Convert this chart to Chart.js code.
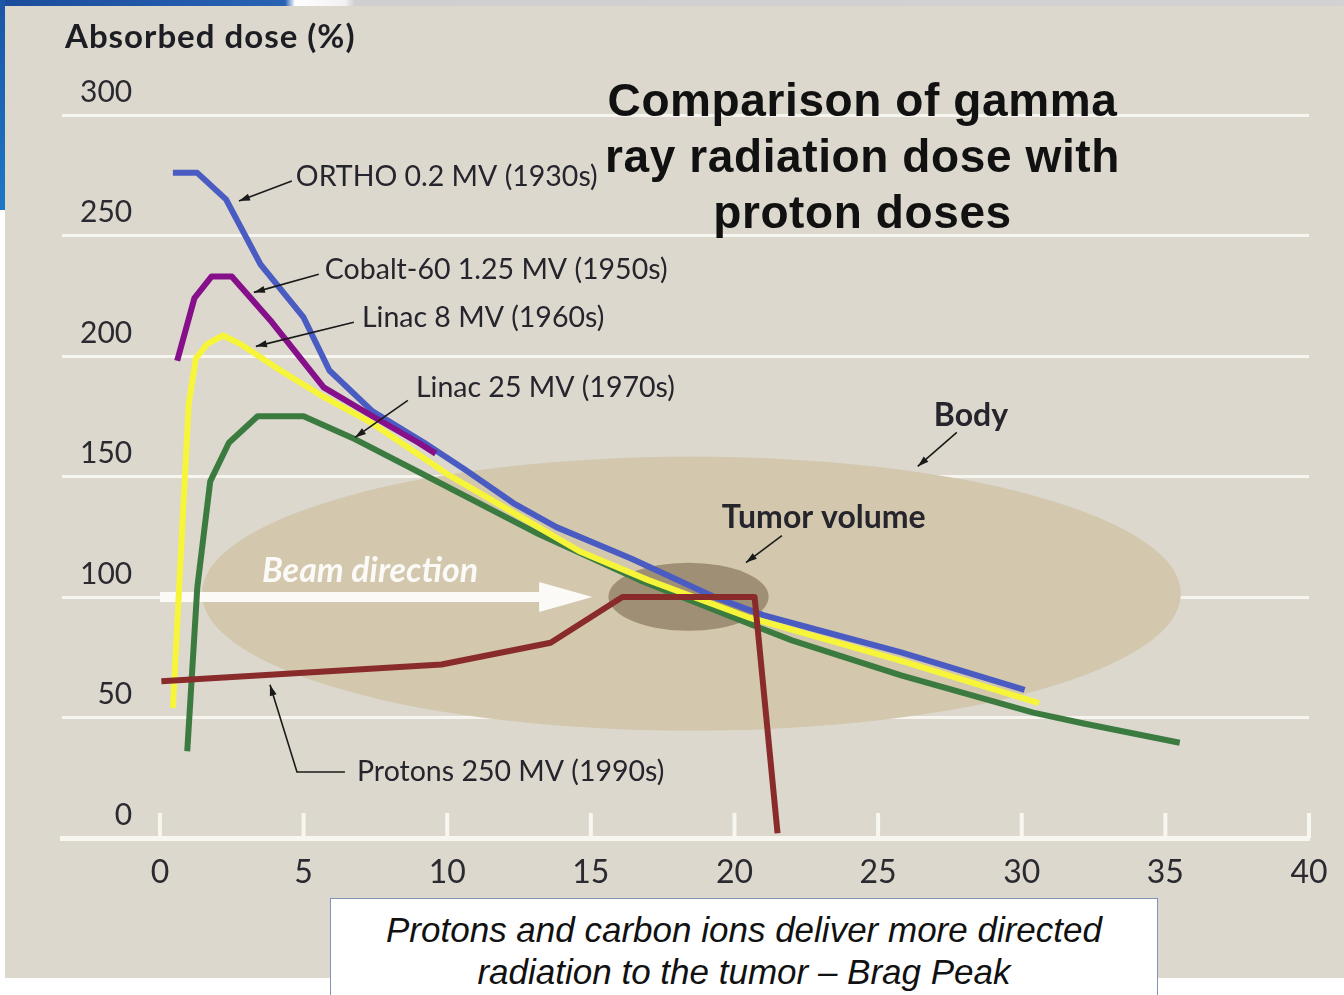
<!DOCTYPE html>
<html>
<head>
<meta charset="utf-8">
<title>Absorbed dose vs depth</title>
<script src="https://cdn.jsdelivr.net/npm/chart.js@4.4.1/dist/chart.umd.min.js"></script>
<style>
  body { margin: 0; width: 1344px; height: 995px; position: relative; overflow: hidden; background: #fff; }
  #topBand { position: absolute; left: 0; top: 0; width: 1344px; height: 6px;
    background: linear-gradient(90deg, #1b4c9c 0, #2862b3 285px, #ffffff 295px, #f2f2f2 345px, #cfcfcf 355px, #d2d2d2 100%); }
  #sideBand { position: absolute; left: 0; top: 0; width: 5px; height: 210px; background: linear-gradient(#1b55a6, #1c78c6); }
  #panel { position: absolute; left: 5px; top: 6px; width: 1339px; height: 972px; background: #dcd8ce; }
  #chartWrap { position: absolute; left: 0; top: 0; width: 1344px; height: 995px; }
  #yTitle { position: absolute; left: 65px; top: 15px; font: 700 33px Lato, sans-serif; letter-spacing: 1px; color: #1d1d24; }
  #title { position: absolute; left: 560px; top: 72px; width: 605px; text-align: center;
    font: 700 46px "Liberation Sans", Arial, sans-serif; line-height: 56px; letter-spacing: 0.6px; color: #111; }
  #caption { position: absolute; left: 330px; top: 898px; width: 828px; height: 110px; padding-top: 10px; box-sizing: border-box;
    background: #fff; border: 1px solid #8393b5; text-align: center;
    font: italic 35px "Liberation Sans", Arial, sans-serif; line-height: 42px; color: #111; }
</style>
</head>
<body>
<div id="topBand"></div>
<div id="sideBand"></div>
<div id="panel"></div>
<div id="chartWrap"><canvas id="doseChart" width="1344" height="995"></canvas></div>
<div id="yTitle">Absorbed dose (%)</div>
<div id="title">Comparison of gamma<br>ray radiation dose with<br>proton doses</div>
<div id="caption">Protons and carbon ions deliver more directed<br>radiation to the tumor – Brag Peak</div>

<script>
// depth axis (cm) and dose axis (%)
const depthTicks = [0, 5, 10, 15, 20, 25, 30, 35, 40];
const doseTicks = [0, 50, 100, 150, 200, 250, 300];

// depth-dose curves
const orthoDepth = [0.45, 1.3, 2.3, 3.5, 5.0, 5.9, 7.4, 9.2, 10.6, 12.3, 13.8, 16.4, 19.3, 21.0, 23.0, 25.8, 30.1];
const orthoDose  = [276, 276, 265, 238, 216, 194, 177, 164, 153, 139, 129, 116, 100, 92.5, 86, 77, 61.5];

const cobaltDepth = [0.6, 1.2, 1.8, 2.5, 3.9, 5.7, 7.4, 9.0, 9.6];
const cobaltDose  = [198, 224, 233, 233, 214, 187, 175, 164, 159.5];

const linac8Depth = [0.45, 1.0, 1.25, 1.65, 2.2, 2.8, 4.2, 5.7, 7.4, 10.0, 12.3, 14.6, 17.0, 20.5, 23.0, 25.8, 30.6];
const linac8Dose  = [54, 180, 199, 205, 208.5, 205, 194, 183, 172, 151, 135, 119, 107, 91.5, 83, 73.5, 56];

const linac25Depth = [0.95, 1.3, 1.75, 2.4, 3.4, 5.0, 6.7, 9.8, 13.2, 16.7, 20.6, 22.0, 25.8, 30.4, 32.2, 35.5];
const linac25Dose  = [36, 104, 148, 164, 175, 175, 166, 147, 126, 107, 88.5, 82, 67.5, 52, 47.4, 39.5];

const protonDepth = [0.05, 9.8, 13.6, 16.1, 20.7, 21.5];
const protonDose  = [65, 72, 81, 100, 100, 2];

// body outline and tumour, in axis units (centre + radii)
const bodyShape = { cx: 18.5, cy: 101.4, rx: 17.04, ry: 56.9 };
const tumorShape = { cx: 18.4, cy: 100.1, rx: 2.79, ry: 14.1 };

// callouts: text anchor (left, middle) and leader path ending in an arrow head
const callouts = [
  { text: "ORTHO 0.2 MV (1930s)", at: [4.73, 274.2], path: [[4.59, 272.6], [2.75, 264.3]] },
  { text: "Cobalt-60 1.25 MV (1950s)", at: [5.74, 235.6], path: [[5.53, 233.9], [3.27, 226.4]] },
  { text: "Linac 8 MV (1960s)", at: [7.03, 215.7], path: [[6.75, 214], [3.34, 204]] },
  { text: "Linac 25 MV (1970s)", at: [8.91, 186.6], path: [[8.63, 181.6], [6.79, 166.2]] },
  { text: "Body", at: [26.94, 175.3], path: [[27.74, 168.3], [26.38, 154.2]], bold: true },
  { text: "Tumor volume", at: [19.56, 133], path: [[21.65, 125.5], [20.4, 114.3]], bold: true },
  { text: "Protons 250 MV (1990s)", at: [6.86, 27.4], path: [[6.44, 27.4], [4.77, 27.4], [3.83, 63.6]] }
];

const toPoints = (xs, ys) => xs.map((x, i) => ({ x, y: ys[i] }));

function ellipse(ctx, xs, ys, s, color) {
  const cx = xs.getPixelForValue(s.cx), cy = ys.getPixelForValue(s.cy);
  const rx = Math.abs(xs.getPixelForValue(s.cx + s.rx) - cx);
  const ry = Math.abs(ys.getPixelForValue(s.cy + s.ry) - cy);
  ctx.beginPath();
  ctx.ellipse(cx, cy, rx, ry, 0, 0, Math.PI * 2);
  ctx.fillStyle = color;
  ctx.fill();
}

function arrowHead(ctx, x1, y1, x2, y2, len, half) {
  const a = Math.atan2(y2 - y1, x2 - x1);
  ctx.beginPath();
  ctx.moveTo(x2, y2);
  ctx.lineTo(x2 - len * Math.cos(a) + half * Math.sin(a), y2 - len * Math.sin(a) - half * Math.cos(a));
  ctx.lineTo(x2 - len * Math.cos(a) - half * Math.sin(a), y2 - len * Math.sin(a) + half * Math.cos(a));
  ctx.closePath();
  ctx.fill();
}

const sceneUnder = {
  id: "sceneUnder",
  beforeDatasetsDraw(chart) {
    const { ctx, chartArea, scales: { x, y } } = chart;
    ctx.save();
    ellipse(ctx, x, y, bodyShape, "#d3c8ae");
    ellipse(ctx, x, y, tumorShape, "#9f8f74");

    // upward tick marks on the depth axis
    ctx.strokeStyle = "#f8f6f1";
    ctx.lineWidth = 4;
    depthTicks.forEach(v => {
      const px = x.getPixelForValue(v);
      ctx.beginPath();
      ctx.moveTo(px, chartArea.bottom);
      ctx.lineTo(px, chartArea.bottom - 25);
      ctx.stroke();
    });

    // beam direction arrow
    const by = y.getPixelForValue(100);
    ctx.strokeStyle = "#fbfaf7";
    ctx.fillStyle = "#fbfaf7";
    ctx.lineWidth = 10;
    ctx.beginPath();
    ctx.moveTo(x.getPixelForValue(0), by);
    ctx.lineTo(x.getPixelForValue(13.4), by);
    ctx.stroke();
    const hx = x.getPixelForValue(13.2), tx = x.getPixelForValue(15.05);
    ctx.beginPath();
    ctx.moveTo(hx, by - 15);
    ctx.lineTo(tx, by);
    ctx.lineTo(hx, by + 15);
    ctx.closePath();
    ctx.fill();

    ctx.font = "italic 700 34px Lato, sans-serif";
    ctx.textBaseline = "middle";
    ctx.fillText("Beam direction", x.getPixelForValue(3.55), y.getPixelForValue(110.9));
    ctx.restore();
  }
};

const sceneOver = {
  id: "sceneOver",
  afterDatasetsDraw(chart) {
    const { ctx, scales: { x, y } } = chart;
    ctx.save();
    ctx.textBaseline = "middle";
    callouts.forEach(c => {
      ctx.font = c.bold ? "700 32px Lato, sans-serif" : "28.5px Lato, sans-serif";
      ctx.fillStyle = "#26242c";
      ctx.fillText(c.text, x.getPixelForValue(c.at[0]), y.getPixelForValue(c.at[1]));

      const pts = c.path.map(p => [x.getPixelForValue(p[0]), y.getPixelForValue(p[1])]);
      ctx.strokeStyle = "#1a1a1a";
      ctx.fillStyle = "#1a1a1a";
      ctx.lineWidth = 1.6;
      ctx.beginPath();
      pts.forEach((p, i) => i ? ctx.lineTo(p[0], p[1]) : ctx.moveTo(p[0], p[1]));
      ctx.stroke();
      const a = pts[pts.length - 2], b = pts[pts.length - 1];
      arrowHead(ctx, a[0], a[1], b[0], b[1], 11, 3.5);
    });
    ctx.restore();
  }
};

const line = (label, xs, ys, color) => ({
  label,
  data: toPoints(xs, ys),
  borderColor: color,
  borderWidth: 6,
  borderJoinStyle: "round",
  pointRadius: 0,
  tension: 0,
  fill: false
});

const labelFont = { family: "Lato, sans-serif", size: 30 };

new Chart(document.getElementById("doseChart"), {
  type: "line",
  data: {
    datasets: [
      line("Protons 250 MV", protonDepth, protonDose, "#8a2b2b"),
      line("Linac 8 MV", linac8Depth, linac8Dose, "#f6f53a"),
      line("Cobalt-60 1.25 MV", cobaltDepth, cobaltDose, "#860f8a"),
      line("ORTHO 0.2 MV", orthoDepth, orthoDose, "#4a5cc2"),
      line("Linac 25 MV", linac25Depth, linac25Dose, "#3b7b40")
    ]
  },
  options: {
    responsive: false,
    animation: false,
    devicePixelRatio: 1,
    layout: { padding: { left: 26, right: 35, top: 115, bottom: 96.6 } },
    plugins: { legend: { display: false }, tooltip: { enabled: false } },
    scales: {
      x: {
        type: "linear",
        min: -3.41,
        max: 40,
        afterBuildTicks: s => { s.ticks = depthTicks.map(v => ({ value: v })); },
        grid: { display: false },
        border: { display: true, color: "#f8f6f1", width: 5 },
        ticks: { font: { ...labelFont, size: 32 }, color: "#2a2a30", padding: 7, maxRotation: 0, autoSkip: false }
      },
      y: {
        min: 0,
        max: 300,
        afterBuildTicks: s => { s.ticks = doseTicks.map(v => ({ value: v })); },
        grid: { color: "#f7f5ef", lineWidth: 3, drawTicks: false },
        border: { display: false },
        ticks: { mirror: true, crossAlign: "far", padding: 18, labelOffset: -23, font: labelFont, color: "#2a2a30" }
      }
    }
  },
  plugins: [sceneUnder, sceneOver]
});
</script>
</body>
</html>
